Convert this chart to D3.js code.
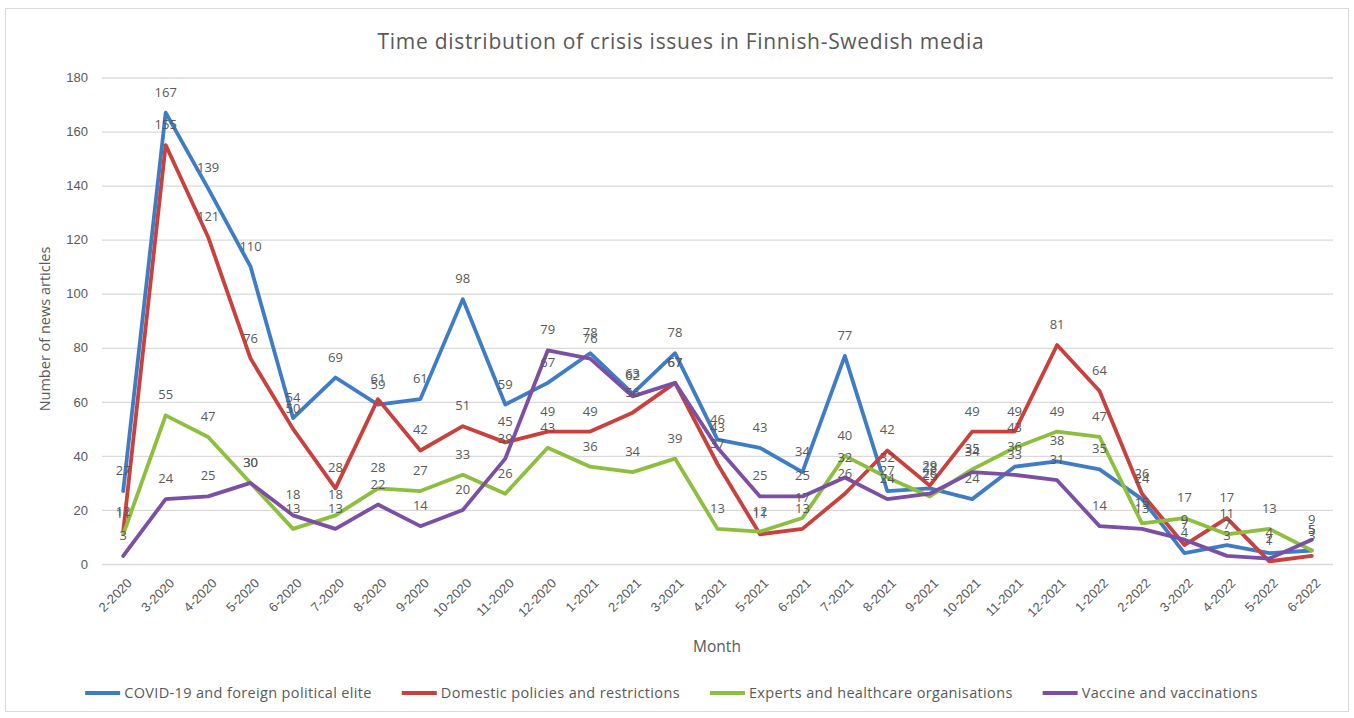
<!DOCTYPE html>
<html>
<head>
<meta charset="utf-8">
<script src="https://cdn.jsdelivr.net/npm/d3@7"></script>
<style>
  html, body { margin: 0; padding: 0; background: #ffffff; }
  svg { display: block; font-family: "Open Sans", "Noto Sans", sans-serif; }
</style>
</head>
<body>
<svg id="chart" width="1354" height="718"></svg>
<script>
// Months on the category axis
const months = [
  "2-2020","3-2020","4-2020","5-2020","6-2020","7-2020","8-2020","9-2020","10-2020","11-2020","12-2020",
  "1-2021","2-2021","3-2021","4-2021","5-2021","6-2021","7-2021","8-2021","9-2021","10-2021","11-2021","12-2021",
  "1-2022","2-2022","3-2022","4-2022","5-2022","6-2022"
];

// Monthly article counts per crisis issue
const covidElite = [27,167,139,110,54,69,59,61,98,59,67,78,63,78,46,43,34,77,27,28,24,36,38,35,24,4,7,4,5];
const domesticPolicies = [12,155,121,76,50,28,61,42,51,45,49,49,56,67,37,11,13,26,42,29,49,49,81,64,26,7,17,1,3];
const expertsHealthcare = [11,55,47,30,13,18,28,27,33,26,43,36,34,39,13,12,17,40,32,25,35,43,49,47,15,17,11,13,5];
const vaccines = [3,24,25,30,18,13,22,14,20,39,79,76,62,67,43,25,25,32,24,26,34,33,31,14,13,9,3,2,9];

const seriesNames = [
  "COVID-19 and foreign political elite",
  "Domestic policies and restrictions",
  "Experts and healthcare organisations",
  "Vaccine and vaccinations"
];
const yTicks = [0,20,40,60,80,100,120,140,160,180];

const series = [
  { name: seriesNames[0], values: covidElite,        color: "#3f7cc6" },
  { name: seriesNames[1], values: domesticPolicies,  color: "#c9403d" },
  { name: seriesNames[2], values: expertsHealthcare, color: "#8dbf3f" },
  { name: seriesNames[3], values: vaccines,          color: "#7b4fa3" }
];

const svg = d3.select("#chart");
const textColor = "#595959";

// Outer chart frame
svg.append("rect")
  .attr("x", 5.5).attr("y", 8.5)
  .attr("width", 1343).attr("height", 703)
  .attr("fill", "#fff").attr("stroke", "#d9d9d9").attr("stroke-width", 1);

const x = d3.scalePoint().domain(months).range([102, 1333]).padding(0.5);
const y = d3.scaleLinear().domain([0, 180]).range([564, 77.5]);

// Horizontal gridlines and y axis labels
const yAxis = d3.axisLeft(y).tickValues(yTicks).tickSize(-(1333 - 102)).tickPadding(14);
const gy = svg.append("g").attr("transform", "translate(102,0)").call(yAxis);
gy.select(".domain").remove();
gy.selectAll(".tick line").attr("stroke", "#d9d9d9").attr("stroke-width", 1.3);
gy.selectAll(".tick text")
  .attr("fill", textColor).style("font-size", "13px");

// Category labels, rotated
const xAxis = d3.axisBottom(x).tickSize(0);
const gx = svg.append("g").attr("transform", "translate(0,564)").call(xAxis);
gx.select(".domain").remove();
gx.selectAll(".tick text")
  .attr("fill", textColor)
  .style("font-size", "13px")
  .attr("text-anchor", "end")
  .attr("dy", null)
  .attr("y", 0)
  .attr("transform", "translate(9,20) rotate(-45)");

// Series lines
const line = d3.line()
  .x((d, i) => x(months[i]))
  .y(d => y(d));

svg.append("g").selectAll("path")
  .data(series)
  .join("path")
  .attr("d", s => line(s.values))
  .attr("fill", "none")
  .attr("stroke", s => s.color)
  .attr("stroke-width", 3.8)
  .attr("stroke-linejoin", "round")
  .attr("stroke-linecap", "round");

// Value labels above each point
const labels = svg.append("g")
  .attr("fill", textColor)
  .style("font-size", "13px")
  .attr("text-anchor", "middle");
series.forEach(s => {
  labels.selectAll(null)
    .data(s.values)
    .join("text")
    .attr("x", (d, i) => x(months[i]))
    .attr("y", d => y(d) - 16)
    .text(d => d);
});

// Title
svg.append("text")
  .attr("x", 681).attr("y", 49)
  .attr("text-anchor", "middle")
  .attr("fill", textColor)
  .style("font-size", "21px")
  .style("letter-spacing", "0.7px")
  .text("Time distribution of crisis issues in Finnish-Swedish media");

// Axis titles
svg.append("text")
  .attr("transform", "translate(50,329) rotate(-90)")
  .attr("text-anchor", "middle")
  .attr("fill", textColor)
  .style("font-size", "14.5px")
  .text("Number of news articles");

svg.append("text")
  .attr("x", 717).attr("y", 652)
  .attr("text-anchor", "middle")
  .attr("fill", textColor)
  .style("font-size", "15.5px")
  .text("Month");

// Legend
const legend = svg.append("g").attr("transform", "translate(0,693)");
const items = legend.selectAll("g")
  .data(series)
  .join("g");
items.append("line")
  .attr("x1", 0).attr("x2", 35)
  .attr("stroke", s => s.color)
  .attr("stroke-width", 4);
items.append("text")
  .attr("x", 39).attr("dy", "0.35em")
  .attr("fill", textColor)
  .style("font-size", "14.5px")
  .style("letter-spacing", "0.35px")
  .text(s => s.name);

const gap = 30;
const widths = [];
items.each(function() { widths.push(this.getBBox().width); });
const total = d3.sum(widths) + gap * (widths.length - 1);
let cx = 671.5 - total / 2;
items.attr("transform", (d, i) => {
  const t = `translate(${cx},0)`;
  cx += widths[i] + gap;
  return t;
});
</script>
</body>
</html>
